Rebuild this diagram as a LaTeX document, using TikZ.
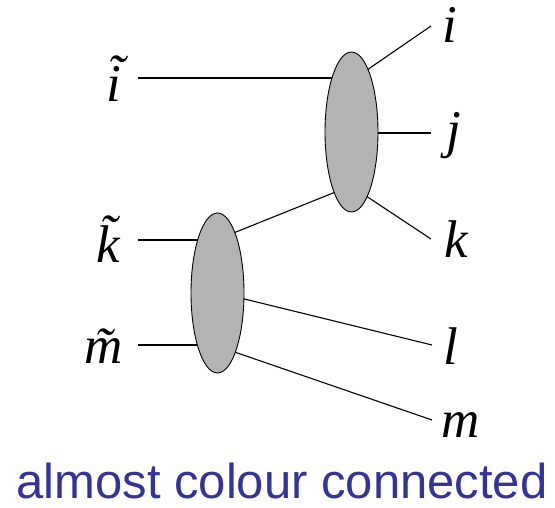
\documentclass[tikz,border=0pt]{standalone}
\usepackage{fontspec}
\setmainfont{Liberation Serif}
\setsansfont{Liberation Sans}
\usetikzlibrary{shapes.geometric}
\pgfdeclarelayer{background}
\pgfsetlayers{background,main}
\definecolor{blobgray}{RGB}{179,179,179}
\definecolor{captionblue}{RGB}{51,51,153}
\begin{document}
\begin{tikzpicture}[x=1pt,y=-1pt,
  blob/.style={ellipse,draw=black,line width=0.9pt,fill=blobgray,minimum width=53pt,minimum height=160pt,inner sep=0pt},
  leg/.style={line width=1.1pt},
  lab/.style={font=\fontsize{53}{60}\selectfont\itshape,inner sep=0pt,anchor=base west}]
\useasboundingbox (0,0) rectangle (555,508);
% blobs
\node[blob] (U) at (351.5,132) {};
\node[blob] (L) at (217.5,293) {};
% labels
\node[lab] (ti) at (106,102) {\accent"02DC i};
\node[lab] (tk) at (96,262) {\~{k}};
\node[lab] (tm) at (84,363) {\~{m}};
\node[lab] (i) at (442,43) {i};
\node[lab] (j) at (446,148) {j};
\node[lab] (k) at (444,258) {k};
\node[lab] (l) at (443,364) {l};
\node[lab] (m) at (441,437) {m};
% free ends
\coordinate (ti0) at (138,78);
\coordinate (ti1) at (345,78);
\coordinate (i0) at (431,26);
\coordinate (i1) at (351,81);
\coordinate (j0) at (431,133);
\coordinate (j1) at (351,133);
\coordinate (k0) at (431,239);
\coordinate (k1) at (351,186);
\coordinate (lk0) at (342.7,189.1);
\coordinate (lk1) at (226.3,235.9);
\coordinate (tk0) at (138,240);
\coordinate (tk1) at (215,240);
\coordinate (tm0) at (138,345);
\coordinate (tm1) at (215,345);
\coordinate (l0) at (432,345);
\coordinate (l1) at (220,293);
\coordinate (m0) at (432,420);
\coordinate (m1) at (220,347);
\begin{pgfonlayer}{background}
\draw[leg] (ti0) -- (ti1);
\draw[leg] (i0) -- (i1);
\draw[leg] (j0) -- (j1);
\draw[leg] (k0) -- (k1);
\draw[leg] (lk0) -- (lk1);
\draw[leg] (tk0) -- (tk1);
\draw[leg] (tm0) -- (tm1);
\draw[leg] (l0) -- (l1);
\draw[leg] (m0) -- (m1);
\end{pgfonlayer}
% caption
\node[font=\sffamily\fontsize{49}{56}\selectfont,text=captionblue,inner sep=0pt,anchor=base] (cap) at (282,498) {almost colour connected};
\end{tikzpicture}
\end{document}
